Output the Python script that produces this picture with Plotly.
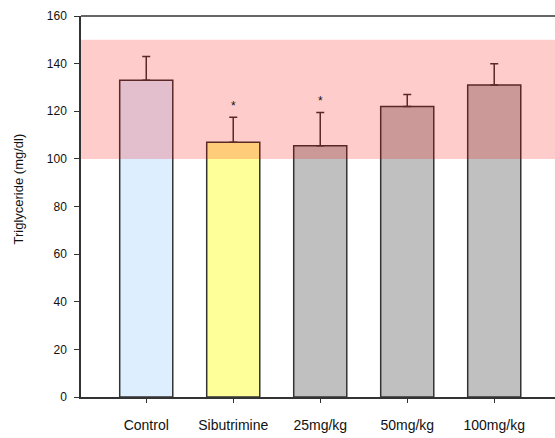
import plotly.graph_objects as go

categories = ["Control", "Sibutrimine", "25mg/kg", "50mg/kg", "100mg/kg"]
values = [133, 107, 105.5, 122, 131]
errors = [10, 10.5, 14, 5, 9]
significance = ["", "*", "*", "", ""]
bar_colors = ["#ddeeff", "#ffff99", "#c0c0c0", "#c0c0c0", "#c0c0c0"]
normal_range = [100, 150]
y_ticks = [0, 20, 40, 60, 80, 100, 120, 140, 160]

fig = go.Figure()
fig.add_trace(go.Bar(
    x=categories, y=values,
    marker=dict(color=bar_colors, line=dict(color="#333333", width=1.5)),
    error_y=dict(type="data", array=errors, symmetric=False, arrayminus=[0]*len(values),
                 color="#333333", thickness=1.5, width=4),
    width=0.61,
))

for c, v, e, s in zip(categories, values, errors, significance):
    if s:
        fig.add_annotation(x=c, y=v + e, text=s, showarrow=False, yanchor="bottom",
                           yshift=2, font=dict(size=12, color="#111111", family="Liberation Sans"))

fig.add_shape(type="rect", xref="paper", yref="y", x0=0, x1=1,
              y0=normal_range[0], y1=normal_range[1],
              fillcolor="rgba(255,0,0,0.2)", line=dict(width=0), layer="above")
fig.add_shape(type="line", xref="paper", yref="paper", x0=0, x1=1, y0=1, y1=1,
              line=dict(color="#333333", width=1.5), layer="above")

fig.add_annotation(text="Triglyceride (mg/dl)", xref="paper", yref="paper",
                   x=0, y=0.5, xanchor="center", yanchor="middle", textangle=-90,
                   xshift=-63, yshift=17, showarrow=False,
                   font=dict(size=13, color="#111111"))

# the plot runs slightly past the 555 px window so its right edge is cut off, as in the reference
fig.update_layout(
    template="none",
    width=560, height=438,
    margin=dict(l=81, r=0, t=16, b=41, pad=0),
    plot_bgcolor="white", paper_bgcolor="white",
    showlegend=False,
    font=dict(family="Liberation Sans", color="#111111"),
    xaxis=dict(range=[-0.75, 4.756], showline=True, linecolor="#333333", linewidth=1.5,
               mirror=False, ticks="outside", ticklen=4, tickcolor="#333333",
               tickfont=dict(size=14), showgrid=False, zeroline=False,
               ticklabelstandoff=10),
    yaxis=dict(range=[0, 160], tickvals=y_ticks, showline=True, linecolor="#333333",
               linewidth=1.5, ticks="outside", ticklen=5, tickcolor="#333333",
               tickfont=dict(size=12), showgrid=False, zeroline=False, mirror=False,
               ticklabelstandoff=5),
)

fig.write_html(
    "out.html",
    config={"displayModeBar": False},
    post_script="document.documentElement.style.overflow='hidden';"
                "document.body.style.overflow='hidden';"
                "document.body.style.margin='0';",
)
